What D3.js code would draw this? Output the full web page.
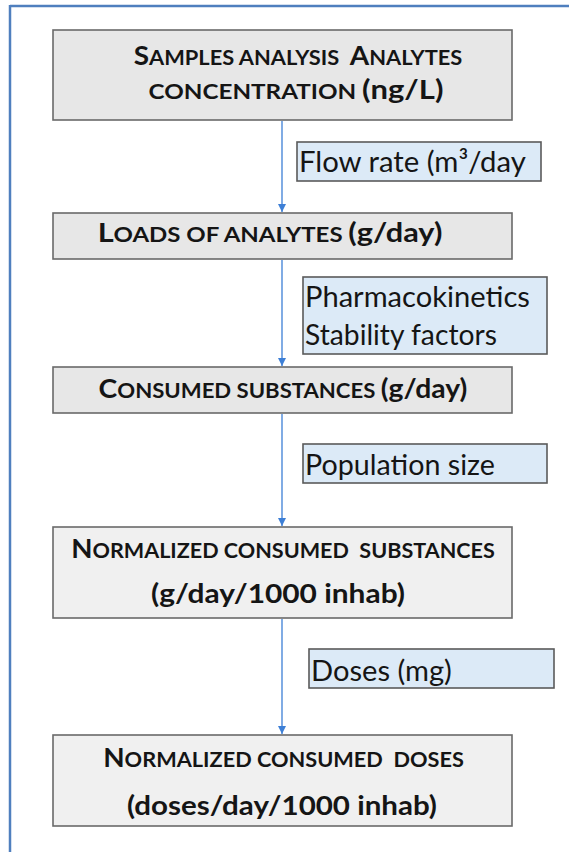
<!DOCTYPE html>
<html><head><meta charset="utf-8">
<script src="https://cdn.jsdelivr.net/npm/d3@7"></script>
<style>html,body{margin:0;padding:0;background:#fff;} svg{display:block} text{white-space:pre}</style>
</head><body><div id="chart"></div>
<script>
// ---- data ----
const steps = [
  ["Samples analysis  Analytes", "concentration (ng/L)"],
  ["Loads of analytes (g/day)"],
  ["Consumed substances (g/day)"],
  ["Normalized consumed  substances", "(g/day/1000 inhab)"],
  ["Normalized consumed  doses", "(doses/day/1000 inhab)"]
];
const params = [
  ["Flow rate (m\u00B3/day"],
  ["Pharmacokinetics", "Stability factors"],
  ["Population size"],
  ["Doses (mg)"]
];

// ---- layout (positions / sizes / styles) ----
const W = 569, H = 852;
const stepX = 53, stepW = 459, arrowX = 282;
const stepBoxes = [{y:30,h:90},{y:213,h:46},{y:367,h:46},{y:527,h:91},{y:735,h:91}];
const stepFills = ["#e7e7e7","#e7e7e7","#e7e7e7","#f0f0f0","#f0f0f0"];
const stepLines = [
  [{cx:298,base:65,w:329},{cx:296,base:99,w:295}],
  [{cx:270,base:242,w:345}],
  [{cx:283,base:398,w:369}],
  [{cx:283,base:558,w:424},{cx:278,base:603,w:254}],
  [{cx:283.5,base:767,w:361},{cx:282,base:815,w:310}]
];
const paramBoxes = [{x:297,y:142,w:244,h:39},{x:303,y:277,w:244,h:77},{x:303,y:444,w:244,h:39},{x:309,y:649,w:245,h:39}];
const paramLines = [
  [{base:172,w:227}],
  [{base:307,w:225},{base:345,w:192}],
  [{base:475,w:190}],
  [{base:681,w:141}]
];
const bigSize = 27.5, smallSize = 21.5, paramSize = 29;
const font = "Lato, 'Open Sans', sans-serif";

const svg = d3.select("#chart").append("svg").attr("width", W).attr("height", H);
svg.append("rect").attr("width", W).attr("height", H).attr("fill", "#fff");

// outer frame
const frameColor = "#4f7fbe";
svg.append("line").attr("x1", 10).attr("x2", W).attr("y1", 6).attr("y2", 6)
  .attr("stroke", frameColor).attr("stroke-width", 2.5);
svg.append("line").attr("x1", 10).attr("x2", 10).attr("y1", 5).attr("y2", H)
  .attr("stroke", frameColor).attr("stroke-width", 2.5);

// arrows
const arrowColor = "#3d7fd6";
svg.append("defs").append("marker").attr("id", "ah")
  .attr("viewBox", "0 0 10 10").attr("refX", 10).attr("refY", 5)
  .attr("markerWidth", 8).attr("markerHeight", 8).attr("markerUnits", "userSpaceOnUse")
  .attr("orient", "auto")
  .append("path").attr("d", "M0,0L10,5L0,10Z").attr("fill", arrowColor);
const arrows = d3.pairs(stepBoxes);
svg.selectAll(".arrow").data(arrows).join("line").attr("class", "arrow")
  .attr("x1", arrowX).attr("x2", arrowX)
  .attr("y1", d => d[0].y + d[0].h + 1).attr("y2", d => d[1].y - 1)
  .attr("stroke", arrowColor).attr("stroke-width", 1.3).attr("marker-end", "url(#ah)");

// step boxes
svg.selectAll(".step").data(stepBoxes).join("rect").attr("class", "step")
  .attr("x", stepX).attr("y", d => d.y).attr("width", stepW).attr("height", d => d.h)
  .attr("fill", (d, i) => stepFills[i]).attr("stroke", "#6a6a6a").attr("stroke-width", 1.6);

// small-caps segments
function segments(line) {
  const out = [];
  const parts = line.split(/(\([^)]*\))/).filter(p => p.length);
  parts.forEach(p => {
    if (p.startsWith("(")) { out.push({t: p, s: bigSize, plain: true}); return; }
    for (const ch of p) {
      const big = ch !== " " && ch === ch.toUpperCase() && ch !== ch.toLowerCase();
      const s = big ? bigSize : smallSize;
      const last = out[out.length - 1];
      if (last && last.s === s && !last.plain) last.t += ch.toUpperCase();
      else out.push({t: ch.toUpperCase(), s});
    }
  });
  return out;
}

function fitWidth(sel, target, ax) {
  const bw = sel.node().getBBox().width;
  const k = target / bw;
  sel.attr("transform", `translate(${ax},0) scale(${k},1) translate(${-ax},0)`);
}

steps.forEach((lines, i) => {
  lines.forEach((line, j) => {
    const L = stepLines[i][j];
    const t = svg.append("text").attr("x", L.cx).attr("y", L.base)
      .attr("text-anchor", "middle").attr("font-family", font).attr("font-weight", 700)
      .attr("fill", "#151515");
    segments(line).forEach(sg => t.append("tspan").attr("font-size", sg.s).text(sg.t));
    fitWidth(t, L.w, L.cx);
  });
});

// parameter boxes
svg.selectAll(".param").data(paramBoxes).join("rect").attr("class", "param")
  .attr("x", d => d.x).attr("y", d => d.y).attr("width", d => d.w).attr("height", d => d.h)
  .attr("fill", "#dceaf7").attr("stroke", "#5a5a5a").attr("stroke-width", 1.6);

params.forEach((lines, i) => {
  lines.forEach((line, j) => {
    const L = paramLines[i][j];
    const x0 = paramBoxes[i].x + 2;
    const t = svg.append("text").attr("x", x0).attr("y", L.base)
      .attr("font-family", font).attr("font-size", paramSize).attr("fill", "#151515")
      .text(line);
    fitWidth(t, L.w, x0);
  });
});
</script>
</body></html>
